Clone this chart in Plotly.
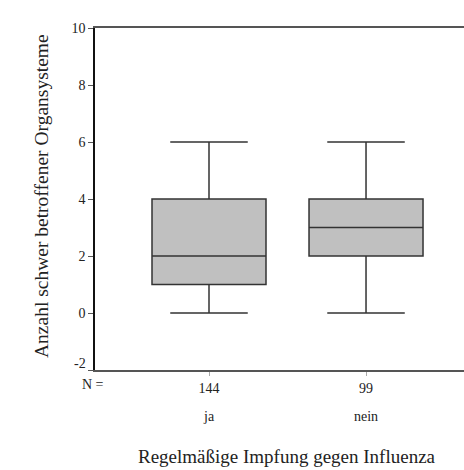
import plotly.graph_objects as go

categories = ["ja", "nein"]
n_values = ["144", "99"]
q1 = [1, 2]
median = [2, 3]
q3 = [4, 4]
lower = [0, 0]
upper = [6, 6]
y_ticks = [-2, 0, 2, 4, 6, 8, 10]
y_ticktext = ["", "0", "2", "4", "6", "8", "10"]  # "-2" drawn separately, lifted above "N ="

FONT = "Liberation Serif, Times New Roman, serif"
PLOT_L, PLOT_T, PLOT_B = 95, 28, 370
PLOT_W, PLOT_H = 464 - PLOT_L, PLOT_B - PLOT_T

def px_x(p):
    return (p - PLOT_L) / PLOT_W

def px_y(p):
    return (PLOT_B - p) / PLOT_H

fig = go.Figure()
fig.add_trace(go.Box(
    x=categories, q1=q1, median=median, q3=q3,
    lowerfence=lower, upperfence=upper,
    fillcolor="#c0c0c0", line=dict(color="#333333", width=1.5),
    width=0.726, whiskerwidth=0.68, boxpoints=False, showlegend=False,
    hoverinfo="skip",
))

fig.update_layout(
    width=464, height=470,
    margin=dict(l=PLOT_L, r=0, t=PLOT_T, b=470 - PLOT_B),
    plot_bgcolor="white", paper_bgcolor="white",
    font=dict(family=FONT, size=14, color="#222222"),
    xaxis=dict(
        type="category", range=[-0.726, 1.624],
        tickvals=categories, ticktext=n_values,
        showline=True, linecolor="#555555", linewidth=1.5, mirror=True,
        ticks="outside", ticklen=4, tickcolor="#aaaaaa",
        showgrid=False, zeroline=False,
        tickfont=dict(size=14, family=FONT),
    ),
    yaxis=dict(
        range=[-2, 10], tickvals=y_ticks, ticktext=y_ticktext,
        showline=True, linecolor="#111111", linewidth=1.5,
        ticks="outside", ticklen=5, tickcolor="#555555",
        showgrid=False, zeroline=False,
        tickfont=dict(size=14, family=FONT),
    ),
)

# lifted "-2" tick label
fig.add_annotation(text=str(y_ticks[0]), xref="paper", yref="y", x=px_x(88), y=y_ticks[0],
                   xanchor="right", yanchor="middle", yshift=7, showarrow=False,
                   font=dict(size=14, family=FONT))
# "N =" label
fig.add_annotation(text="N =", xref="paper", yref="paper", x=px_x(93), y=px_y(385),
                   xanchor="center", yanchor="middle", showarrow=False,
                   font=dict(size=14, family=FONT))
# category names under the counts
for c in categories:
    fig.add_annotation(text=c, xref="x", yref="paper", x=c, y=px_y(417),
                       xanchor="center", yanchor="middle", showarrow=False,
                       font=dict(size=14, family=FONT))
# axis titles
fig.add_annotation(text="Regelmäßige Impfung gegen Influenza", xref="paper", yref="paper",
                   x=px_x(287), y=px_y(456), xanchor="center", yanchor="middle",
                   showarrow=False, font=dict(size=19, family=FONT))
fig.add_annotation(text="Anzahl schwer betroffener Organsysteme", xref="paper", yref="paper",
                   x=px_x(41), y=px_y(196), xanchor="center", yanchor="middle",
                   textangle=-90, showarrow=False, font=dict(size=19.5, family=FONT))

fig.write_html("out.html")
